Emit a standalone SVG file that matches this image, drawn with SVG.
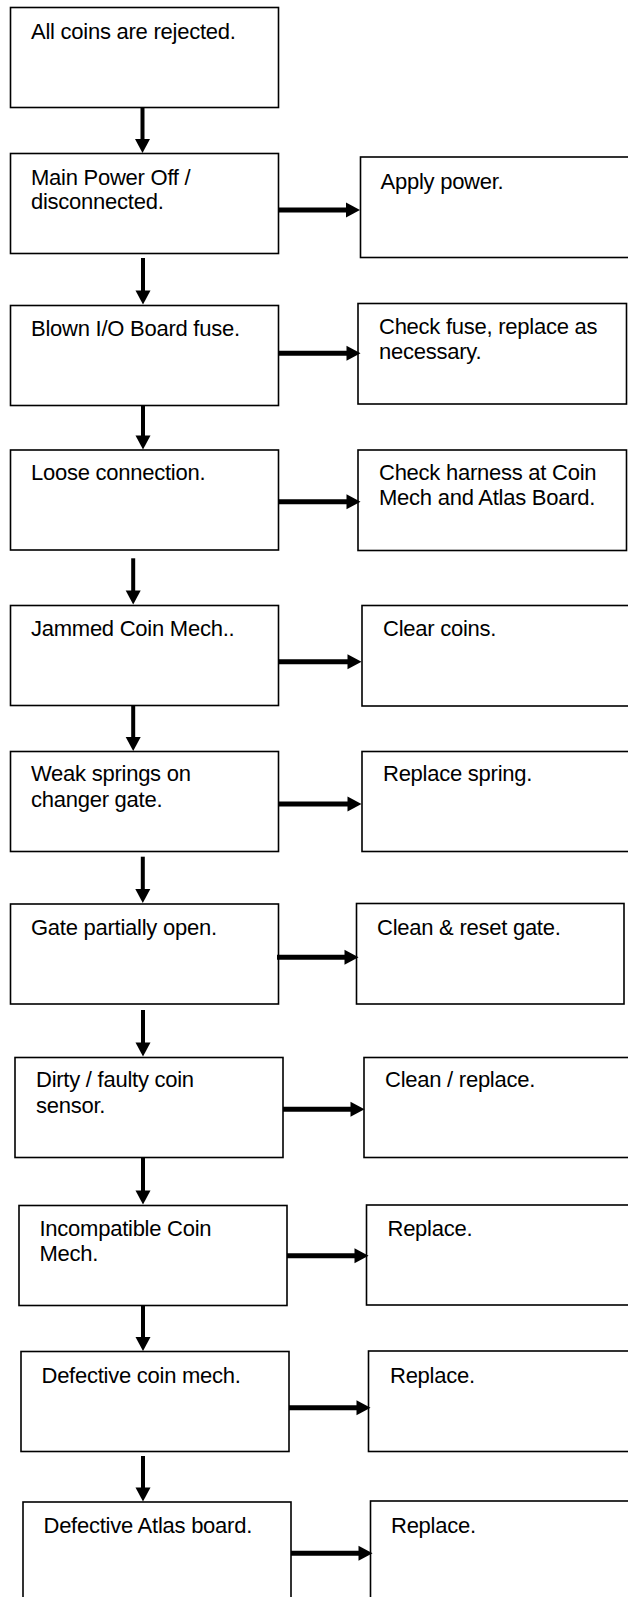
<svg xmlns="http://www.w3.org/2000/svg" width="628" height="1597" viewBox="0 0 628 1597">
<defs>
<style>
.box{fill:#fff;stroke:#000;stroke-width:1.6}
.t{font-family:"Liberation Sans",Arial,sans-serif;font-size:22px;letter-spacing:-0.25px;fill:#000}
.v{stroke:#000;stroke-width:4;fill:none}
.h{stroke:#000;stroke-width:5;fill:none}
</style>
<marker id="ah" markerUnits="userSpaceOnUse" markerWidth="15" markerHeight="15" refX="0.5" refY="7.5" orient="auto" overflow="visible">
<path d="M0,0 L14,7.5 L0,15 Z" fill="#000"/>
</marker>
</defs>
<rect width="628" height="1597" fill="#fff"/>
<g id="n1"><rect class="box" x="10.5" y="7.5" width="268" height="100"/><text class="t" x="31" y="38.5">All coins are rejected.</text></g>
<g id="n2"><rect class="box" x="10.5" y="153.5" width="268" height="100"/><text class="t" x="31" y="184.5">Main Power Off /</text><text class="t" x="31" y="209">disconnected.</text></g>
<g id="r1"><rect class="box" x="360.5" y="157" width="290" height="100.5"/><text class="t" x="380.5" y="188.5">Apply power.</text></g>
<g id="n3"><rect class="box" x="10.5" y="305.5" width="268" height="100"/><text class="t" x="31" y="336">Blown I/O Board fuse.</text></g>
<g id="r2"><rect class="box" x="358" y="303.5" width="268.5" height="100.5"/><text class="t" x="379" y="334">Check fuse, replace as</text><text class="t" x="379" y="359">necessary.</text></g>
<g id="n4"><rect class="box" x="10.5" y="450" width="268" height="100"/><text class="t" x="31" y="480">Loose connection.</text></g>
<g id="r3"><rect class="box" x="358" y="450" width="268.5" height="100.5"/><text class="t" x="379" y="480">Check harness at Coin</text><text class="t" x="379" y="505">Mech and Atlas Board.</text></g>
<g id="n5"><rect class="box" x="10.5" y="605.5" width="268" height="100"/><text class="t" x="31" y="636">Jammed Coin Mech..</text></g>
<g id="r4"><rect class="box" x="362" y="605.5" width="290" height="100.5"/><text class="t" x="383" y="636">Clear coins.</text></g>
<g id="n6"><rect class="box" x="10.5" y="751.5" width="268" height="100"/><text class="t" x="31" y="781">Weak springs on</text><text class="t" x="31" y="806.5">changer gate.</text></g>
<g id="r5"><rect class="box" x="362" y="751.5" width="290" height="100"/><text class="t" x="383" y="781">Replace spring.</text></g>
<g id="n7"><rect class="box" x="10.5" y="904" width="268" height="100"/><text class="t" x="31" y="934.5">Gate partially open.</text></g>
<g id="r6"><rect class="box" x="356.5" y="903.5" width="267.5" height="100.5"/><text class="t" x="377" y="934.5">Clean &amp; reset gate.</text></g>
<g id="n8"><rect class="box" x="15" y="1057.5" width="268" height="100"/><text class="t" x="36" y="1087">Dirty / faulty coin</text><text class="t" x="36" y="1112.5">sensor.</text></g>
<g id="r7"><rect class="box" x="364" y="1057.5" width="290" height="100"/><text class="t" x="385" y="1087">Clean / replace.</text></g>
<g id="n9"><rect class="box" x="19" y="1205.5" width="268" height="100"/><text class="t" x="39.5" y="1236">Incompatible Coin</text><text class="t" x="39.5" y="1261">Mech.</text></g>
<g id="r8"><rect class="box" x="366.5" y="1205" width="290" height="100"/><text class="t" x="387.5" y="1236">Replace.</text></g>
<g id="n10"><rect class="box" x="21" y="1351.5" width="268" height="100"/><text class="t" x="41.5" y="1382.5">Defective coin mech.</text></g>
<g id="r9"><rect class="box" x="368.5" y="1351" width="290" height="100.5"/><text class="t" x="390" y="1382.5">Replace.</text></g>
<g id="n11"><rect class="box" x="23" y="1502" width="268" height="120"/><text class="t" x="43.5" y="1532.5">Defective Atlas board.</text></g>
<g id="r10"><rect class="box" x="370.5" y="1501" width="290" height="120"/><text class="t" x="391" y="1532.5">Replace.</text></g>
<g id="connectors">
<line class="v" x1="142.5" y1="107.5" x2="142.5" y2="139.5" marker-end="url(#ah)"/>
<line class="v" x1="143" y1="258" x2="143" y2="291" marker-end="url(#ah)"/>
<line class="v" x1="143" y1="405.5" x2="143" y2="436" marker-end="url(#ah)"/>
<line class="v" x1="133.2" y1="558.3" x2="133.2" y2="591" marker-end="url(#ah)"/>
<line class="v" x1="133.2" y1="705.5" x2="133.2" y2="737.5" marker-end="url(#ah)"/>
<line class="v" x1="142.8" y1="856.7" x2="142.8" y2="889.5" marker-end="url(#ah)"/>
<line class="v" x1="143" y1="1010" x2="143" y2="1043" marker-end="url(#ah)"/>
<line class="v" x1="143" y1="1157.5" x2="143" y2="1191" marker-end="url(#ah)"/>
<line class="v" x1="143" y1="1305.5" x2="143" y2="1337.5" marker-end="url(#ah)"/>
<line class="v" x1="143" y1="1456" x2="143" y2="1488" marker-end="url(#ah)"/>
<line class="h" x1="279" y1="210" x2="346.5" y2="210" marker-end="url(#ah)"/>
<line class="h" x1="279" y1="353.3" x2="347" y2="353.3" marker-end="url(#ah)"/>
<line class="h" x1="279" y1="501.7" x2="347" y2="501.7" marker-end="url(#ah)"/>
<line class="h" x1="279" y1="661.7" x2="348" y2="661.7" marker-end="url(#ah)"/>
<line class="h" x1="279" y1="804" x2="348" y2="804" marker-end="url(#ah)"/>
<line class="h" x1="277" y1="957.3" x2="345" y2="957.3" marker-end="url(#ah)"/>
<line class="h" x1="283" y1="1109.3" x2="351" y2="1109.3" marker-end="url(#ah)"/>
<line class="h" x1="287" y1="1255.7" x2="355" y2="1255.7" marker-end="url(#ah)"/>
<line class="h" x1="289" y1="1407.7" x2="357" y2="1407.7" marker-end="url(#ah)"/>
<line class="h" x1="291" y1="1553.3" x2="359" y2="1553.3" marker-end="url(#ah)"/>
</g>
</svg>
